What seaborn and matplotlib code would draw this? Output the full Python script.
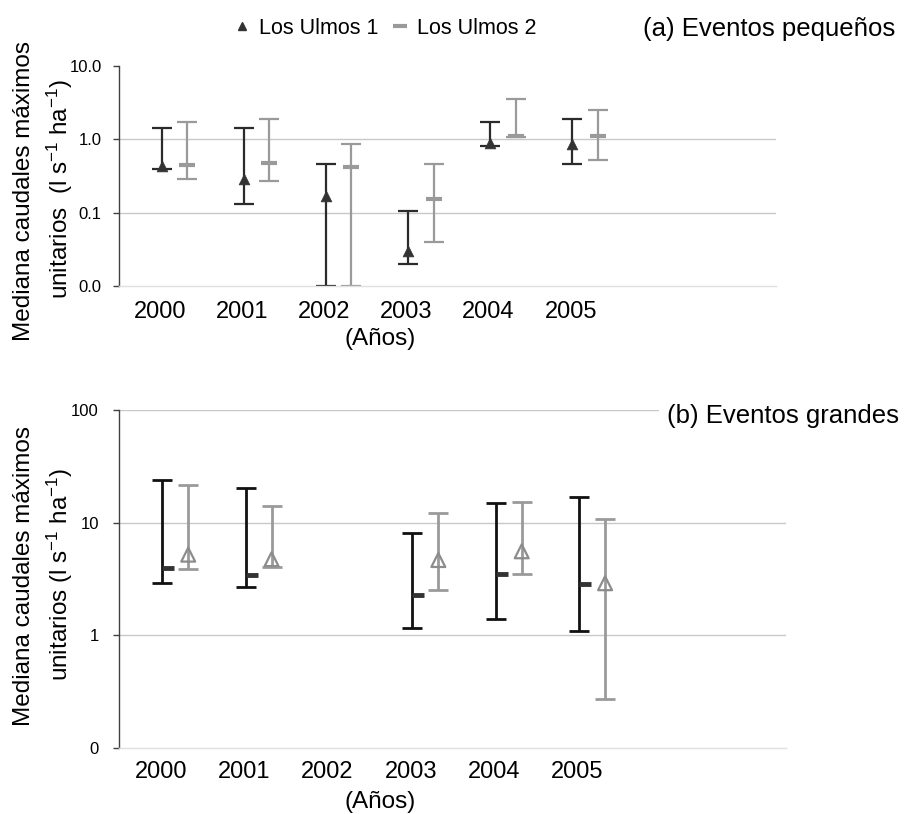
import numpy as np
import matplotlib
matplotlib.use("Agg")
import matplotlib.pyplot as plt
from matplotlib.path import Path
from matplotlib.lines import Line2D
import seaborn as sns

years = ['2000', '2001', '2002', '2003', '2004', '2005']

# (a) eventos pequeños - median with min / max
lu1_small_med = [0.43, 0.285, 0.171, 0.030, 0.88, 0.86]
lu1_small_lo = [0.40, 0.132, 0.01, 0.020, 0.80, 0.46]
lu1_small_hi = [1.42, 1.42, 0.46, 0.106, 1.75, 1.88]
lu2_small_med = [0.45, 0.48, 0.42, 0.156, 1.12, 1.12]
lu2_small_lo = [0.29, 0.27, 0.01, 0.040, 1.07, 0.53]
lu2_small_hi = [1.75, 1.88, 0.87, 0.46, 3.53, 2.50]

# (b) eventos grandes
lu1_large_med = [3.96, 3.44, np.nan, 2.26, 3.47, 2.86]
lu1_large_lo = [2.94, 2.66, np.nan, 1.16, 1.39, 1.10]
lu1_large_hi = [23.8, 20.5, np.nan, 8.04, 14.8, 17.0]
lu2_large_med = [5.2, 4.74, np.nan, 4.66, 5.57, 2.9]
lu2_large_lo = [3.84, 4.05, np.nan, 2.55, 3.51, 0.273]
lu2_large_hi = [21.4, 14.2, np.nan, 12.2, 15.4, 10.7]

sns.set_theme(style="white")
plt.rcParams['font.family'] = ['Liberation Sans', 'DejaVu Sans']
plt.rcParams['mathtext.default'] = 'regular'
plt.rcParams['text.color'] = 'black'

DARK = '#2b2b2b'
GRAY = '#9a9a9a'
GRID = '#c8c8c8'

x = np.arange(len(years))
x1 = x + 0.02
x2 = x + 0.33

fig = plt.figure(figsize=(9.13, 8.14), dpi=100)
ax1 = fig.add_axes([119 / 913, 1 - 286 / 814, 657 / 913, 220 / 814])
ax2 = fig.add_axes([119 / 913, 1 - 748 / 814, 667 / 913, 338 / 814])


def whiskers(ax, xs, med, lo, hi, color, lw, cap):
    med = np.array(med)
    err = np.array([med - np.array(lo), np.array(hi) - med])
    ax.errorbar(xs, med, yerr=err, fmt='none', ecolor=color, elinewidth=lw,
                capsize=cap, capthick=lw, zorder=2)


def style_axis(ax, ticks, labels, ymin, ymax, pad_y, pad_x):
    ax.set_yscale('log')
    ax.set_ylim(ymin, ymax)
    ax.set_xlim(-0.5, 7.5)
    ax.set_yticks(ticks)
    ax.set_yticklabels(labels)
    ax.minorticks_off()
    ax.set_xticks(x)
    ax.set_xticklabels(years)
    for s in ['top', 'right']:
        ax.spines[s].set_visible(False)
    ax.spines['left'].set_color('#404040')
    ax.spines['left'].set_linewidth(1)
    ax.spines['bottom'].set_color('#e0e0e0')
    ax.spines['bottom'].set_linewidth(1)
    ax.tick_params(axis='y', which='major', left=True, length=4.5, width=1,
                   color='#404040', labelsize=12, pad=pad_y, labelcolor='black')
    ax.tick_params(axis='x', bottom=False, labelsize=17, pad=pad_x,
                   labelcolor='black')
    ax.set_xlabel('')
    ax.set_ylabel('')


# ---- panel (a)
style_axis(ax1, [0.01, 0.1, 1, 10], ['0.0', '0.1', '1.0', '10.0'],
           0.01, 10, 8, 5)
for v in [0.1, 1]:
    ax1.axhline(v, color=GRID, lw=1, zorder=0)

whiskers(ax1, x1, lu1_small_med, lu1_small_lo, lu1_small_hi, DARK, 1.6, 7.5)
whiskers(ax1, x2, lu2_small_med, lu2_small_lo, lu2_small_hi, GRAY, 1.6, 7.5)
sns.scatterplot(x=x1, y=lu1_small_med, marker='^', s=60, color='#333333',
                edgecolor='#333333', linewidth=0.5, ax=ax1, zorder=3)
sns.scatterplot(x=x2, y=lu2_small_med, marker='_', s=120, color=GRAY,
                linewidth=3, ax=ax1, zorder=3)

# ---- panel (b)
style_axis(ax2, [0.1, 1, 10, 100], ['0', '1', '10', '100'],
           0.1, 100, 10, 3)
for v in [1, 10, 100]:
    ax2.axhline(v, color=GRID, lw=1, zorder=0)

whiskers(ax2, x1, lu1_large_med, lu1_large_lo, lu1_large_hi, '#111111', 2, 7)
whiskers(ax2, x2, lu2_large_med, lu2_large_lo, lu2_large_hi, GRAY, 2, 7.5)
half_dash = Path([(0, 0), (1, 0)])
sns.scatterplot(x=x1, y=lu1_large_med, marker=half_dash, s=300,
                color='#333333', edgecolor='#333333', linewidth=3.5,
                ax=ax2, zorder=3)
sns.scatterplot(x=x2, y=lu2_large_med, marker='^', s=100, facecolor='none',
                edgecolor='#8c8c8c', linewidth=1.6, ax=ax2, zorder=3)

# ---- texts
ylab1 = 'Mediana caudales máximos'
ylab2 = 'unitarios  (l s$^{-1}$ ha$^{-1}$)'
fig.text(24 / 913, 1 - 191 / 814, ylab1, rotation=90, ha='center',
         va='center', fontsize=17.5)
fig.text(60 / 913, 1 - 189 / 814, ylab2, rotation=90, ha='center',
         va='center', fontsize=17.5)
fig.text(24 / 913, 1 - 576 / 814, ylab1, rotation=90, ha='center',
         va='center', fontsize=17.5)
fig.text(60 / 913, 1 - 574 / 814, ylab2.replace('  ', ' '), rotation=90,
         ha='center', va='center', fontsize=17.5)

fig.text(380 / 913, 1 - 339 / 814, '(Años)', ha='center', va='center',
         fontsize=17.5)
fig.text(380 / 913, 1 - 802 / 814, '(Años)', ha='center', va='center',
         fontsize=17.5)

fig.text(643 / 913, 1 - 29 / 814, '(a) Eventos pequeños', ha='left',
         va='center', fontsize=18.5)
fig.text(667 / 913, 1 - 416 / 814, '(b) Eventos grandes', ha='left',
         va='center', fontsize=18.5,
         bbox=dict(facecolor='white', edgecolor='none', pad=6))

handles = [
    Line2D([], [], marker='^', color='#333333', linestyle='none', markersize=6),
    Line2D([], [], marker='_', color=GRAY, linestyle='none', markersize=10,
           markeredgewidth=3),
]
fig.legend(handles, ['Los Ulmos 1', 'Los Ulmos 2'], loc='center',
           bbox_to_anchor=(385 / 913, 1 - 28 / 814), ncol=2, frameon=False,
           fontsize=15.5, handlelength=0.8, handletextpad=0.4,
           columnspacing=0.6)

fig.savefig('out.png', dpi=100)
